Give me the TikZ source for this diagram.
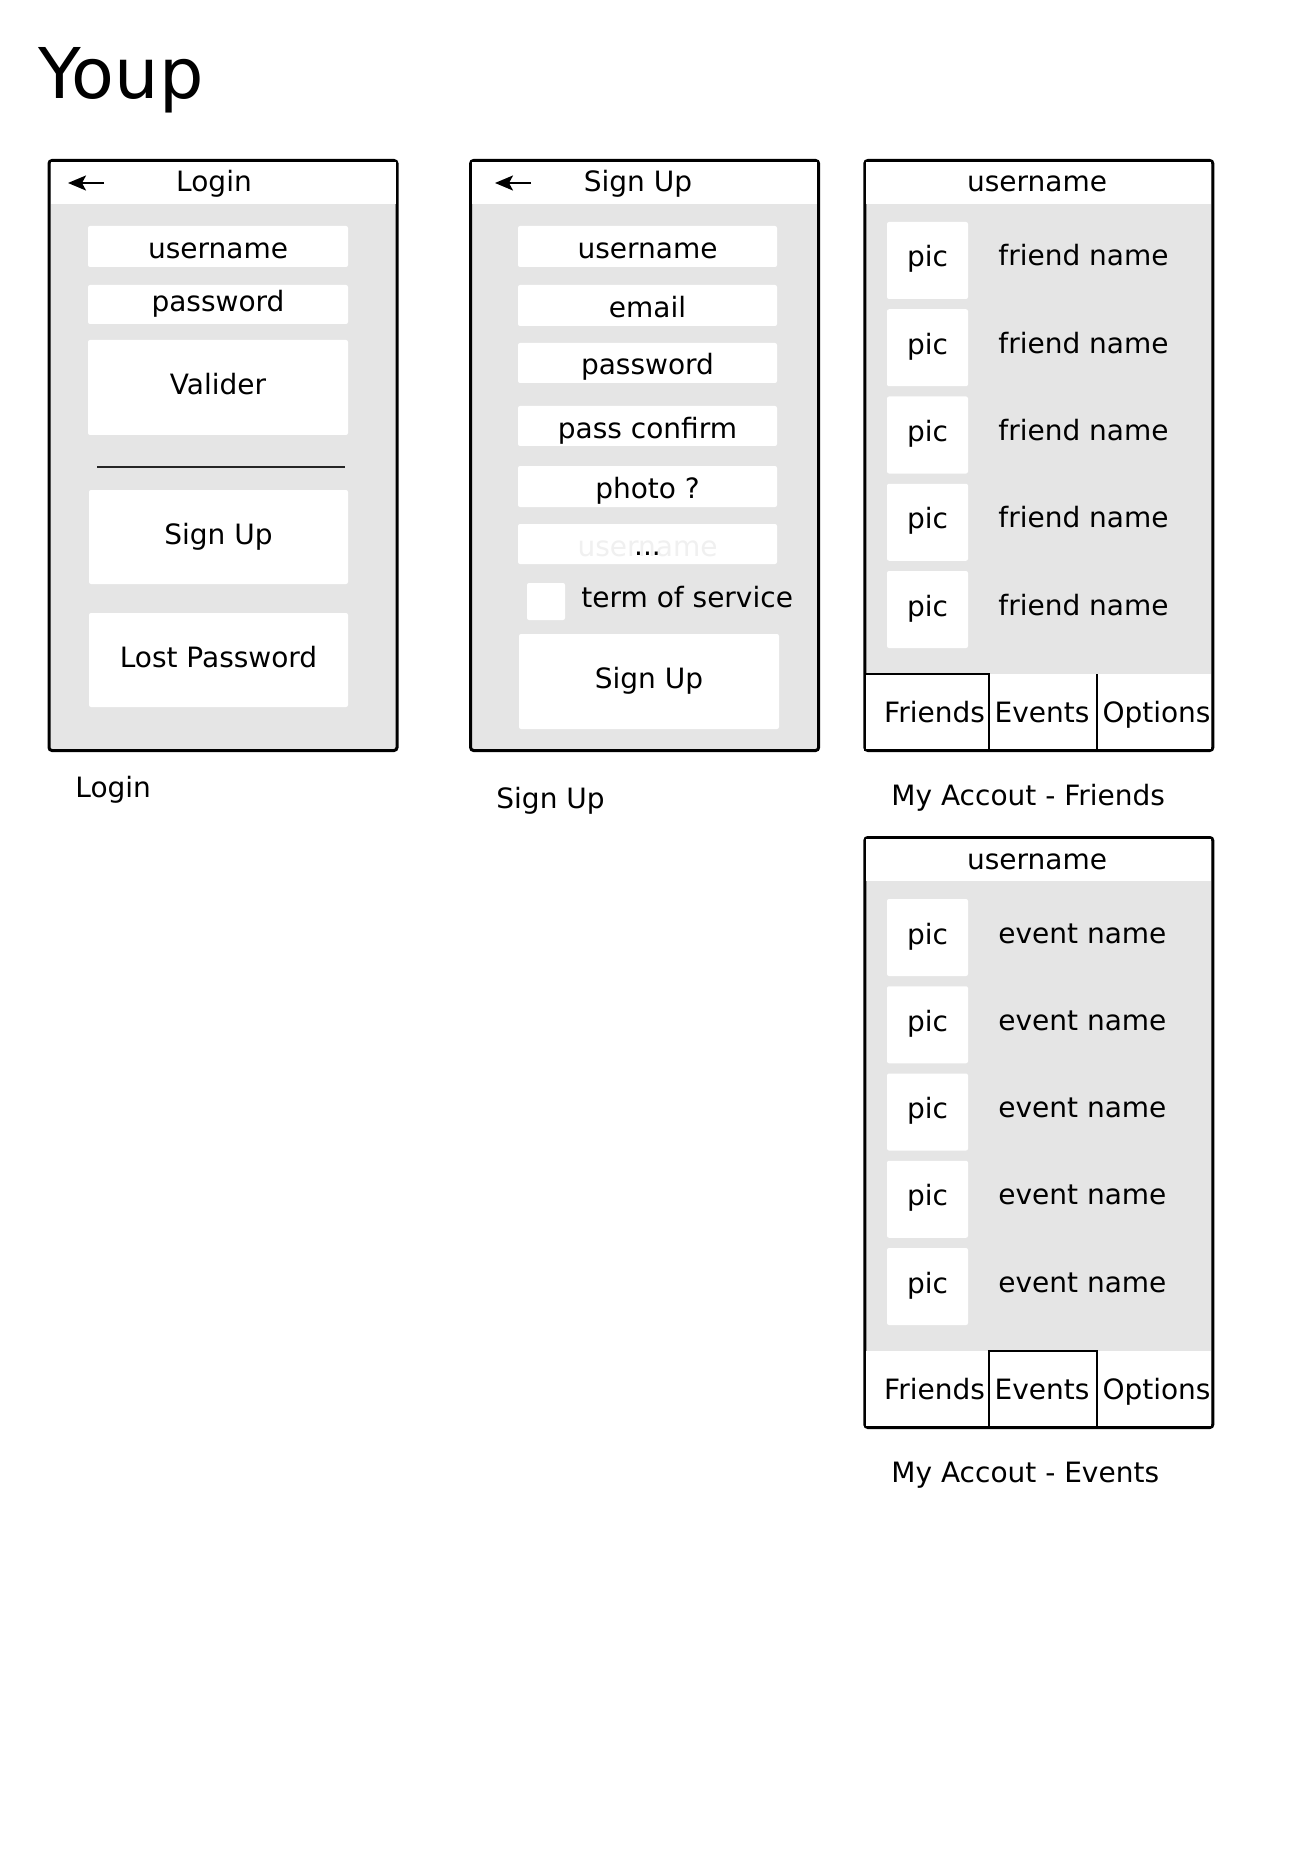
\documentclass[tikz,border=0pt]{standalone}
\usepackage{fontspec}
\setmainfont{DejaVu Sans}
\usepackage{tikz}
\usetikzlibrary{arrows.meta}
\usepackage{xcolor}
\definecolor{screengray}{HTML}{E5E5E5}
\definecolor{ghostgray}{HTML}{F0F0F0}

\begin{document}
\begin{tikzpicture}[x=0.5pt, y=-0.5pt, font=\fontsize{14}{16.8}\selectfont]
  \tikzstyle{phone} = [rectangle, rounded corners=1.5pt, draw, line width=1.5pt, fill=screengray, minimum width=174pt, minimum height=295pt, inner sep=0pt]
  \tikzstyle{topbar} = [rectangle, fill=white, minimum width=172.5pt, minimum height=21pt, inner sep=0pt]
  \tikzstyle{tabbar} = [rectangle, fill=white, minimum width=172.5pt, minimum height=37.5pt, inner sep=0pt]
  \tikzstyle{field} = [rectangle, rounded corners=1pt, fill=white, minimum width=129.5pt, minimum height=20.5pt, inner sep=0pt, text height=12pt, text depth=0pt]
  \tikzstyle{button} = [field, minimum width=130pt, minimum height=47pt, text height=7.5pt]
  \tikzstyle{picbox} = [field, minimum width=40.5pt, minimum height=38.5pt, text height=6.5pt]
  \tikzstyle{tabline} = [line width=0.9pt]
  \tikzstyle{backarrow} = [-{Stealth[length=9pt, width=7.5pt, inset=2pt]}, line width=1pt]
  \tikzstyle{caption} = [anchor=base west, inner sep=0pt]
  \tikzstyle{headtext} = [anchor=base, inner sep=0pt]

  \useasboundingbox (0,0) rectangle (1308,1850);
  \node[caption, font=\fontsize{35}{42}\selectfont] (youp) at (38,99) {Youp};

  % Login
  \node[phone] (login) at (223,455.5) {};
  \node[topbar] (loginTop) at (223,183) {};
  \node[headtext] (loginHead) at (214,192) {Login};
  \coordinate (loginBackTail) at (104,183);
  \coordinate (loginBackTip) at (68,183);
  \draw[backarrow] (loginBackTail) -- (loginBackTip);
  \node[field, minimum width=130pt] (loginUser) at (218,246.5) {username};
  \node[field, minimum width=130pt, minimum height=19.5pt, text height=7.5pt] (loginPass) at (218,304.5) {password};
  \node[button, minimum height=47.5pt] (loginOk) at (218,387.5) {Valider};
  \coordinate (loginSepL) at (97,467);
  \coordinate (loginSepR) at (345,467);
  \draw[line width=0.8pt, black!85] (loginSepL) -- (loginSepR);
  \node[button, minimum width=129.5pt] (loginSign) at (218.5,537) {Sign Up};
  \node[button, minimum width=129.5pt] (loginLost) at (218.5,660) {Lost Password};
  \node[caption] (loginCap) at (75,797) {Login};

  % Sign Up
  \node[phone] (signup) at (644.6,455.5) {};
  \node[topbar] (signupTop) at (644.6,183) {};
  \node[headtext] (signupHead) at (638,192) {Sign Up};
  \coordinate (signupBackTail) at (531,183);
  \coordinate (signupBackTip) at (495,183);
  \draw[backarrow] (signupBackTail) -- (signupBackTip);
  \node[field] (signupUser) at (647.5,246.5) {username};
  \node[field] (signupMail) at (647.5,305.5) {email};
  \node[field, minimum height=20pt] (signupPass) at (647.5,363) {password};
  \node[field, minimum height=20pt] (signupConf) at (647.5,426) {pass confirm};
  \node[field] (signupPhoto) at (647.5,486.5) {photo ?};
  \node[field, minimum height=20pt, text=ghostgray] (signupMore) at (647.5,544) {username};
  \node[field, fill=none, minimum height=20pt, text height=11pt] (signupDots) at (647.5,544) {...};
  \node[field, minimum width=19pt, minimum height=18.5pt] (signupCheck) at (546,601.5) {};
  \node[caption] (signupTerms) at (581,607) {term of service};
  \node[button, minimum height=47.5pt, text height=6.5pt] (signupOk) at (649,681.5) {Sign Up};
  \node[caption] (signupCap) at (496,808) {Sign Up};

  % My Accout - Friends
  \node[phone] (friends) at (1038.8,455.5) {};
  \node[topbar] (friendsTop) at (1038.8,183) {};
  \node[headtext] (friendsHead) at (1037,192) {username};
  \node[picbox] (friendsPicA) at (927.5,260.5) {pic};
  \node[caption] (friendsNameA) at (998,266) {friend name};
  \node[picbox] (friendsPicB) at (927.5,347.75) {pic};
  \node[caption] (friendsNameB) at (998,353.25) {friend name};
  \node[picbox] (friendsPicC) at (927.5,435) {pic};
  \node[caption] (friendsNameC) at (998,440.5) {friend name};
  \node[picbox] (friendsPicD) at (927.5,522.25) {pic};
  \node[caption] (friendsNameD) at (998,527.75) {friend name};
  \node[picbox] (friendsPicE) at (927.5,609.5) {pic};
  \node[caption] (friendsNameE) at (998,615) {friend name};
  \node[tabbar] (friendsTabs) at (1038.8,711.5) {};
  \draw[tabline] (864.7,674) rectangle (989,750.5);
  \draw[tabline] (1097,674) -- (1097,750.5);
  \node[headtext] (friendsTabF) at (934.5,722) {Friends};
  \node[headtext] (friendsTabE) at (1042,722) {Events};
  \node[headtext] (friendsTabO) at (1156.5,722) {Options};
  \node[caption] (friendsCap) at (891,805) {My Accout - Friends};

  % My Accout - Events
  \node[phone] (events) at (1038.8,1132.5) {};
  \node[topbar] (eventsTop) at (1038.8,860) {};
  \node[headtext] (eventsHead) at (1037,869) {username};
  \node[picbox] (eventsPicA) at (927.5,937.5) {pic};
  \node[caption] (eventsNameA) at (998,943) {event name};
  \node[picbox] (eventsPicB) at (927.5,1024.75) {pic};
  \node[caption] (eventsNameB) at (998,1030.25) {event name};
  \node[picbox] (eventsPicC) at (927.5,1112) {pic};
  \node[caption] (eventsNameC) at (998,1117.5) {event name};
  \node[picbox] (eventsPicD) at (927.5,1199.25) {pic};
  \node[caption] (eventsNameD) at (998,1204.75) {event name};
  \node[picbox] (eventsPicE) at (927.5,1286.5) {pic};
  \node[caption] (eventsNameE) at (998,1292) {event name};
  \node[tabbar] (eventsTabs) at (1038.8,1388.5) {};
  \draw[tabline] (989,1351) rectangle (1097,1427.5);
  \node[headtext] (eventsTabF) at (934.5,1399) {Friends};
  \node[headtext] (eventsTabE) at (1042,1399) {Events};
  \node[headtext] (eventsTabO) at (1156.5,1399) {Options};
  \node[caption] (eventsCap) at (891,1482) {My Accout - Events};
\end{tikzpicture}
\end{document}
